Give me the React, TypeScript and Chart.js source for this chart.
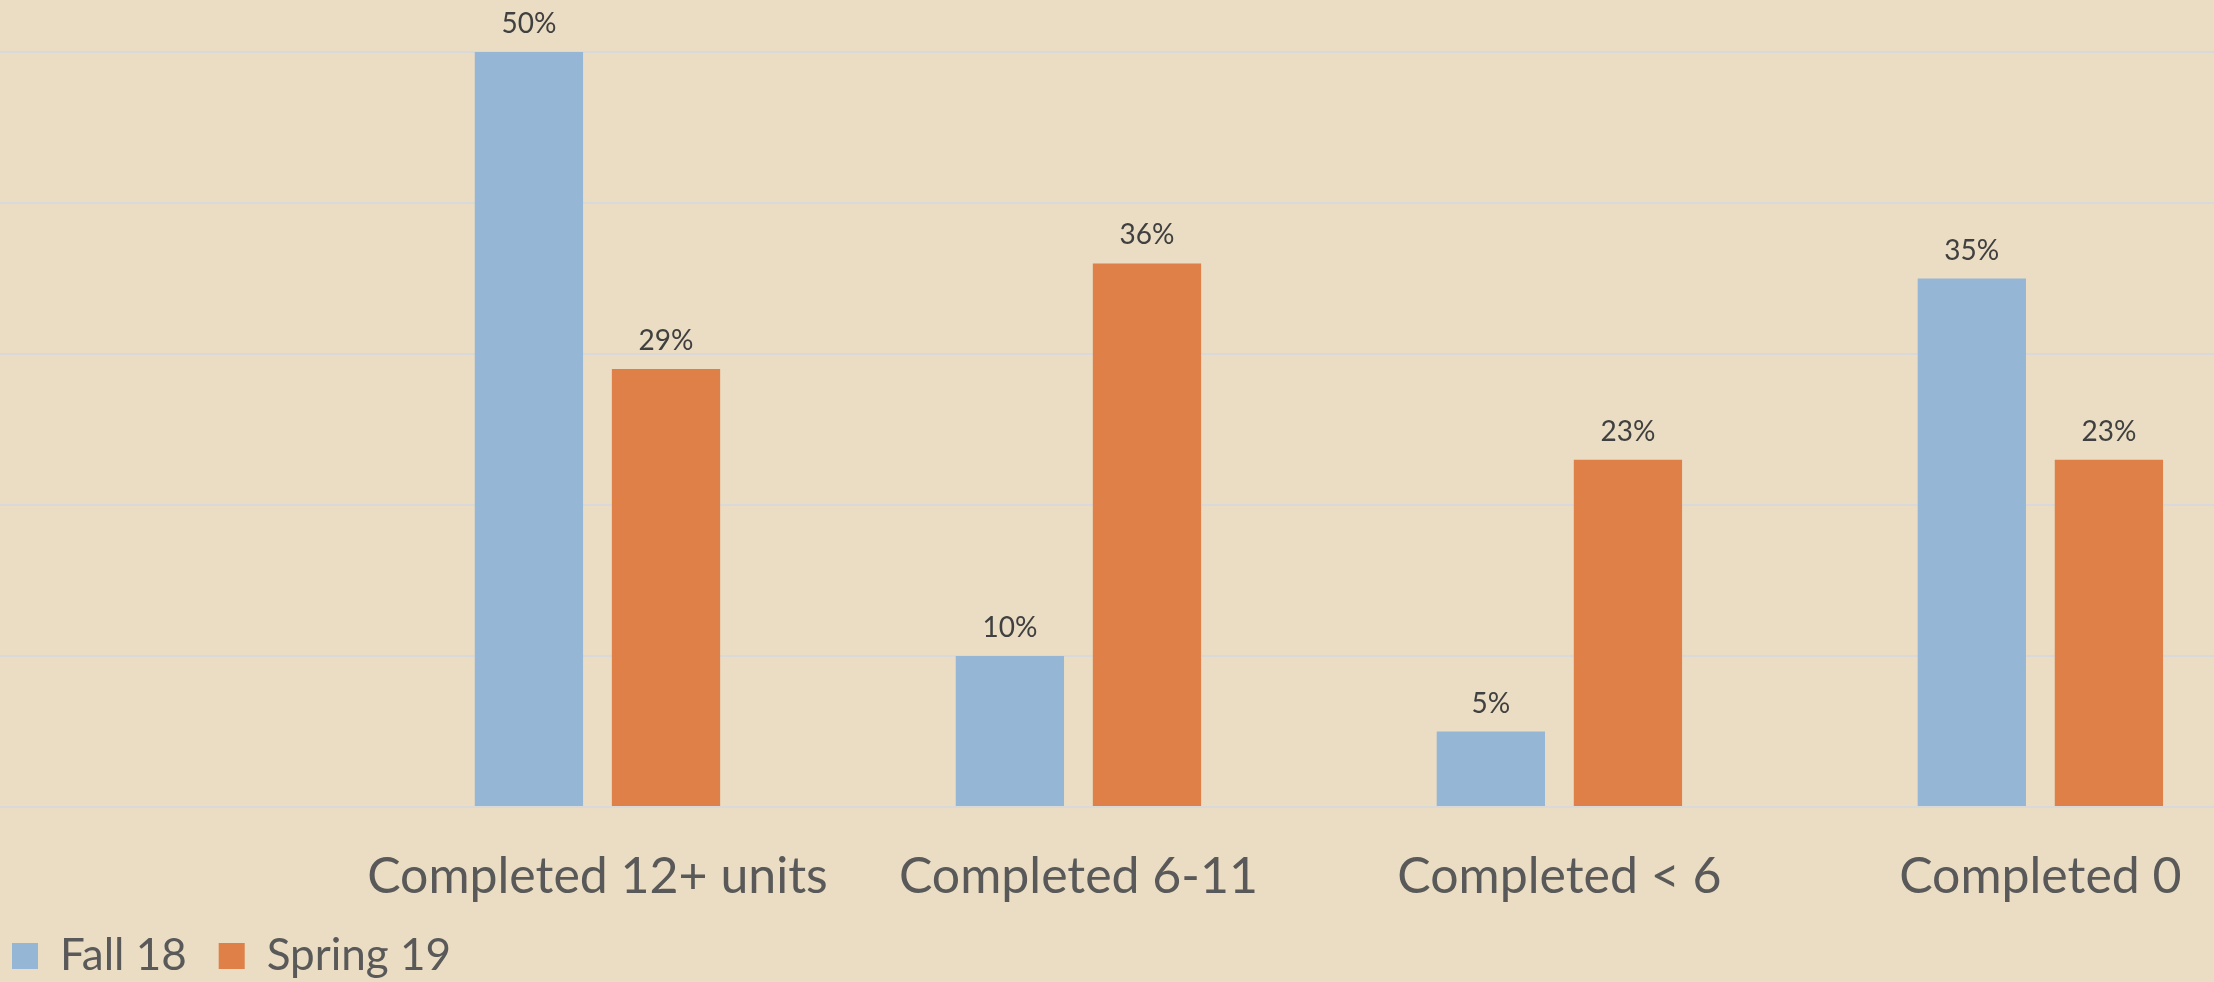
import { useEffect, useRef } from "react";
import { Chart, registerables } from "chart.js";

Chart.register(...registerables);

const categories = ["Completed 12+ units", "Completed 6-11", "Completed < 6", "Completed 0"];
const seriesNames = ["Fall 18", "Spring 19"];
const fall18 = [50, 10, 5, 35];
const spring19 = [29, 36, 23, 23];
const yTicks = [0, 10, 20, 30, 40, 50];

const FONT = "Lato, 'Open Sans', sans-serif";
const BG = "#EBDDC3";

export default function App() {
  const ref = useRef<HTMLCanvasElement>(null);

  useEffect(() => {
    const toPoints = (vals: number[]) => vals.map((v, i) => ({ x: i + 1, y: v }));

    const dataLabels = {
      id: "dataLabels",
      afterDatasetsDraw(chart: any) {
        const ctx = chart.ctx;
        ctx.save();
        ctx.font = `28px ${FONT}`;
        ctx.fillStyle = "#404040";
        ctx.textAlign = "center";
        ctx.textBaseline = "alphabetic";
        chart.data.datasets.forEach((ds: any, di: number) => {
          const meta = chart.getDatasetMeta(di);
          meta.data.forEach((el: any, i: number) => {
            const v = ds.data[i].y;
            ctx.fillText(`${v}%`, el.x, el.y - 19);
          });
        });
        ctx.restore();
      },
    };

    const chart = new Chart(ref.current!, {
      type: "bar",
      data: {
        datasets: [
          { label: seriesNames[0], data: toPoints(fall18) as any, backgroundColor: "#95B6D5" },
          { label: seriesNames[1], data: toPoints(spring19) as any, backgroundColor: "#DE8047" },
        ],
      },
      options: {
        animation: false,
        responsive: true,
        maintainAspectRatio: false,
        categoryPercentage: 0.57,
        barPercentage: 0.79,
        layout: { padding: { top: 52, left: -20, right: 0, bottom: -6 } },
        plugins: {
          tooltip: { enabled: false },
          legend: {
            position: "bottom",
            align: "start",
            labels: {
              boxWidth: 26,
              boxHeight: 26,
              padding: 32,
              color: "#595959",
              font: { family: FONT, size: 44 },
            },
          },
        },
        scales: {
          x: {
            type: "linear",
            min: -0.2422,
            max: 4.361,
            offset: false,
            grid: { display: false, drawTicks: false },
            border: { display: false },
            afterFit: (s: any) => {
              s.height = 95;
              s.paddingLeft = 0;
              s.paddingRight = 0;
            },
            ticks: {
              stepSize: 1,
              includeBounds: false,
              autoSkip: false,
              maxRotation: 0,
              minRotation: 0,
              padding: 40,
              color: "#595959",
              font: { family: FONT, size: 50 },
              callback: (v: any) => {
                const i = Math.round(Number(v)) - 1;
                return i >= 0 && i < categories.length ? categories[i] : "";
              },
            },
          },
          y: {
            min: 0,
            max: 50,
            grid: { color: "#D9D9D9", lineWidth: 2, drawTicks: false },
            border: { display: false },
            ticks: { display: false },
            afterBuildTicks: (s: any) => {
              s.ticks = yTicks.map((v) => ({ value: v }));
            },
          },
        },
      } as any,
      plugins: [dataLabels],
    });
    return () => chart.destroy();
  }, []);

  return (
    <div
      style={{
        position: "absolute",
        left: 0,
        top: 0,
        width: 2214,
        height: 982,
        background: BG,
        overflow: "hidden",
      }}
    >
      <canvas ref={ref} />
    </div>
  );
}
